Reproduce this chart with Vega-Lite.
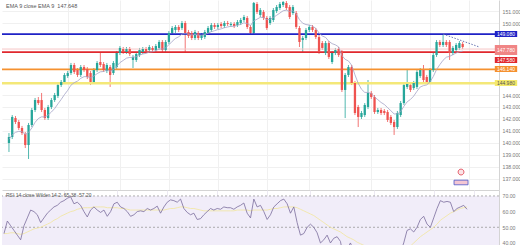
{
"$schema": "https://vega.github.io/schema/vega-lite/v6.json",
"padding": 0,
"spacing": 0,
"background": "white",
"config": {"view": {"stroke": null}, "font": "Liberation Sans",
"axis": {"labelFont": "Liberation Sans", "labelFontSize": 5.2, "labelColor": "#7a7a7a", "labelOverlap": false, "ticks": false, "title": null, "domainColor": "#d4d4d4"},
"title": {"font": "Liberation Sans"}},
"datasets": {
"candles": [
{"i":0,"o":140.00,"h":140.83,"l":139.25,"c":140.50,"e":140.30,"r":46,"m":46},
{"i":1,"o":140.50,"h":142.33,"l":140.33,"c":142.17,"e":140.68,"r":54,"m":46},
{"i":2,"o":142.08,"h":142.25,"l":141.58,"c":141.75,"e":140.89,"r":51,"m":46.5},
{"i":3,"o":141.75,"h":141.92,"l":141.08,"c":141.25,"e":140.97,"r":48,"m":46.5},
{"i":4,"o":141.25,"h":141.42,"l":140.67,"c":140.83,"e":140.94,"r":45,"m":46},
{"i":5,"o":140.75,"h":140.92,"l":139.58,"c":139.83,"e":140.72,"r":42,"m":45.5},
{"i":6,"o":139.83,"h":141.67,"l":138.67,"c":141.50,"e":140.88,"r":51,"m":46},
{"i":7,"o":141.50,"h":142.92,"l":141.33,"c":142.75,"e":141.25,"r":56,"m":47},
{"i":8,"o":142.75,"h":143.75,"l":142.58,"c":143.58,"e":141.72,"r":61,"m":48},
{"i":9,"o":143.58,"h":143.83,"l":143.17,"c":143.33,"e":142.04,"r":60,"m":49},
{"i":10,"o":143.58,"h":144.17,"l":142.58,"c":142.75,"e":142.18,"r":58,"m":49.5},
{"i":11,"o":142.75,"h":142.92,"l":141.92,"c":142.08,"e":142.17,"r":53,"m":50},
{"i":12,"o":142.08,"h":143.17,"l":141.92,"c":143.00,"e":142.33,"r":56,"m":51},
{"i":13,"o":143.00,"h":143.75,"l":142.83,"c":143.58,"e":142.58,"r":59,"m":52},
{"i":14,"o":143.58,"h":144.17,"l":143.42,"c":144.00,"e":142.87,"r":61,"m":53},
{"i":15,"o":143.92,"h":145.00,"l":143.75,"c":144.83,"e":143.26,"r":63,"m":54.5},
{"i":16,"o":144.83,"h":145.25,"l":144.67,"c":145.08,"e":143.63,"r":64,"m":55.5},
{"i":17,"o":145.08,"h":145.83,"l":144.92,"c":145.67,"e":144.03,"r":66,"m":57},
{"i":18,"o":145.58,"h":146.00,"l":145.42,"c":145.83,"e":144.39,"r":67,"m":58},
{"i":19,"o":145.83,"h":146.67,"l":145.67,"c":146.50,"e":144.82,"r":68.5,"m":59},
{"i":20,"o":146.50,"h":146.67,"l":145.75,"c":145.92,"e":145.03,"r":69.5,"m":60},
{"i":21,"o":146.08,"h":146.25,"l":145.50,"c":145.67,"e":145.16,"r":65,"m":60.5},
{"i":22,"o":145.67,"h":146.50,"l":145.50,"c":146.33,"e":145.39,"r":66,"m":61.5},
{"i":23,"o":146.33,"h":146.50,"l":145.92,"c":146.08,"e":145.53,"r":64,"m":62},
{"i":24,"o":146.17,"h":146.33,"l":145.33,"c":145.50,"e":145.53,"r":60,"m":62.5},
{"i":25,"o":145.83,"h":146.00,"l":144.83,"c":145.08,"e":145.43,"r":56.6,"m":62.5},
{"i":26,"o":145.08,"h":146.25,"l":144.92,"c":146.08,"e":145.57,"r":61,"m":62.5},
{"i":27,"o":146.08,"h":146.83,"l":145.92,"c":146.67,"e":145.78,"r":63,"m":63},
{"i":28,"o":146.75,"h":147.50,"l":146.33,"c":146.50,"e":145.93,"r":61,"m":63},
{"i":29,"o":146.58,"h":146.75,"l":145.92,"c":146.08,"e":145.96,"r":59.5,"m":63},
{"i":30,"o":146.00,"h":146.67,"l":145.83,"c":146.50,"e":146.07,"r":61,"m":63},
{"i":31,"o":146.33,"h":146.50,"l":144.67,"c":145.67,"e":145.98,"r":57,"m":62.5},
{"i":32,"o":145.83,"h":146.83,"l":145.67,"c":146.67,"e":146.12,"r":60,"m":62.5},
{"i":33,"o":146.33,"h":147.67,"l":146.17,"c":147.50,"e":146.39,"r":65,"m":62.5},
{"i":34,"o":147.50,"h":148.08,"l":147.33,"c":147.92,"e":146.70,"r":66,"m":62.5},
{"i":35,"o":147.83,"h":148.00,"l":147.42,"c":147.58,"e":146.88,"r":63,"m":62},
{"i":36,"o":147.58,"h":148.00,"l":147.42,"c":147.83,"e":147.07,"r":62,"m":62},
{"i":37,"o":147.83,"h":148.00,"l":147.25,"c":147.42,"e":147.13,"r":60,"m":61.5},
{"i":38,"o":146.92,"h":147.33,"l":146.25,"c":147.17,"e":147.14,"r":57,"m":61},
{"i":39,"o":146.92,"h":147.58,"l":146.75,"c":147.42,"e":147.20,"r":58,"m":61},
{"i":40,"o":147.33,"h":147.92,"l":147.17,"c":147.75,"e":147.31,"r":60,"m":61},
{"i":41,"o":147.58,"h":148.00,"l":147.42,"c":147.83,"e":147.42,"r":60.5,"m":61},
{"i":42,"o":147.83,"h":148.00,"l":147.50,"c":147.67,"e":147.47,"r":60,"m":61},
{"i":43,"o":147.75,"h":148.17,"l":147.58,"c":148.00,"e":147.58,"r":62,"m":61},
{"i":44,"o":147.92,"h":148.08,"l":147.58,"c":147.75,"e":147.61,"r":61,"m":61},
{"i":45,"o":147.75,"h":148.25,"l":147.58,"c":148.08,"e":147.70,"r":62,"m":61},
{"i":46,"o":147.92,"h":148.58,"l":147.75,"c":148.42,"e":147.84,"r":63.5,"m":61},
{"i":47,"o":148.42,"h":148.58,"l":147.58,"c":147.75,"e":147.83,"r":59,"m":61},
{"i":48,"o":147.75,"h":148.58,"l":147.58,"c":148.42,"e":147.94,"r":63,"m":61},
{"i":49,"o":148.42,"h":149.33,"l":148.25,"c":149.17,"e":148.18,"r":66,"m":61.5},
{"i":50,"o":149.17,"h":149.75,"l":149.00,"c":149.58,"e":148.47,"r":67.5,"m":62},
{"i":51,"o":149.42,"h":149.83,"l":149.17,"c":149.67,"e":148.71,"r":67,"m":62},
{"i":52,"o":149.67,"h":149.83,"l":149.25,"c":149.42,"e":148.85,"r":66,"m":62.5},
{"i":53,"o":149.58,"h":150.17,"l":149.42,"c":150.00,"e":149.08,"r":68,"m":63},
{"i":54,"o":150.00,"h":150.17,"l":147.58,"c":149.17,"e":149.10,"r":62,"m":63},
{"i":55,"o":149.25,"h":149.42,"l":148.75,"c":148.92,"e":149.07,"r":59.5,"m":62.5},
{"i":56,"o":149.17,"h":149.33,"l":148.58,"c":148.75,"e":149.00,"r":58,"m":62},
{"i":57,"o":148.75,"h":149.42,"l":148.58,"c":149.25,"e":149.05,"r":59,"m":62},
{"i":58,"o":149.17,"h":149.33,"l":148.58,"c":148.75,"e":148.99,"r":55,"m":61.5},
{"i":59,"o":148.75,"h":149.17,"l":148.58,"c":149.00,"e":148.99,"r":55.5,"m":61},
{"i":60,"o":148.83,"h":149.42,"l":148.67,"c":149.25,"e":149.04,"r":58,"m":60.5},
{"i":61,"o":149.17,"h":149.75,"l":149.00,"c":149.58,"e":149.15,"r":60,"m":60.5},
{"i":62,"o":149.42,"h":150.00,"l":149.25,"c":149.83,"e":149.28,"r":62,"m":60.5},
{"i":63,"o":149.83,"h":150.00,"l":149.50,"c":149.67,"e":149.36,"r":61,"m":60.5},
{"i":64,"o":149.67,"h":150.00,"l":149.50,"c":149.83,"e":149.45,"r":62,"m":60.5},
{"i":65,"o":149.92,"h":150.08,"l":149.58,"c":149.75,"e":149.51,"r":61.5,"m":60.5},
{"i":66,"o":149.75,"h":150.17,"l":149.58,"c":150.00,"e":149.61,"r":63,"m":60.5},
{"i":67,"o":150.00,"h":150.17,"l":149.75,"c":149.92,"e":149.67,"r":62.5,"m":60.5},
{"i":68,"o":149.83,"h":150.08,"l":149.67,"c":149.92,"e":149.72,"r":62.5,"m":60.5},
{"i":69,"o":149.92,"h":150.08,"l":149.58,"c":149.75,"e":149.73,"r":61.5,"m":60.5},
{"i":70,"o":149.83,"h":150.25,"l":149.67,"c":150.08,"e":149.80,"r":63,"m":61},
{"i":71,"o":150.00,"h":150.42,"l":149.83,"c":150.25,"e":149.89,"r":64,"m":61},
{"i":72,"o":150.25,"h":150.67,"l":150.08,"c":150.50,"e":150.02,"r":65.5,"m":61},
{"i":73,"o":150.42,"h":150.58,"l":149.50,"c":149.67,"e":149.95,"r":59,"m":61},
{"i":74,"o":149.67,"h":149.83,"l":149.00,"c":149.17,"e":149.79,"r":56,"m":60.5},
{"i":75,"o":149.17,"h":151.75,"l":149.00,"c":151.67,"e":150.17,"r":68,"m":61},
{"i":76,"o":151.58,"h":151.75,"l":150.75,"c":150.92,"e":150.32,"r":63,"m":61},
{"i":77,"o":150.67,"h":151.25,"l":150.50,"c":151.08,"e":150.47,"r":64,"m":61},
{"i":78,"o":150.92,"h":151.08,"l":150.25,"c":150.42,"e":150.46,"r":60,"m":61},
{"i":79,"o":150.42,"h":150.58,"l":149.42,"c":149.58,"e":150.28,"r":55,"m":61},
{"i":80,"o":150.00,"h":150.58,"l":149.83,"c":150.42,"e":150.31,"r":58,"m":61.5},
{"i":81,"o":150.25,"h":151.25,"l":150.08,"c":151.08,"e":150.47,"r":63,"m":62},
{"i":82,"o":151.00,"h":151.50,"l":150.83,"c":151.33,"e":150.64,"r":65,"m":62},
{"i":83,"o":151.25,"h":151.75,"l":151.08,"c":151.58,"e":150.83,"r":67,"m":62.5},
{"i":84,"o":151.50,"h":151.83,"l":151.33,"c":151.75,"e":151.02,"r":68,"m":63},
{"i":85,"o":151.67,"h":151.83,"l":151.08,"c":151.25,"e":151.07,"r":65,"m":63},
{"i":86,"o":151.33,"h":151.50,"l":150.33,"c":150.50,"e":150.95,"r":59,"m":63},
{"i":87,"o":150.83,"h":151.50,"l":150.67,"c":151.33,"e":151.03,"r":63,"m":63},
{"i":88,"o":150.83,"h":151.00,"l":149.50,"c":149.67,"e":150.75,"r":53,"m":62.5},
{"i":89,"o":149.58,"h":149.75,"l":148.00,"c":148.42,"e":150.28,"r":45,"m":61.5},
{"i":90,"o":148.58,"h":148.92,"l":147.50,"c":148.75,"e":149.98,"r":46,"m":60.5},
{"i":91,"o":148.75,"h":149.58,"l":148.58,"c":149.42,"e":149.87,"r":50,"m":59.5},
{"i":92,"o":149.42,"h":149.83,"l":149.25,"c":149.67,"e":149.83,"r":52,"m":58.5},
{"i":93,"o":149.67,"h":149.83,"l":149.25,"c":149.42,"e":149.74,"r":50,"m":57.5},
{"i":94,"o":149.42,"h":149.58,"l":148.67,"c":148.83,"e":149.56,"r":46.5,"m":56},
{"i":95,"o":148.83,"h":149.00,"l":147.42,"c":147.58,"e":149.17,"r":40,"m":54.5},
{"i":96,"o":148.33,"h":148.50,"l":147.75,"c":147.92,"e":148.92,"r":42,"m":53},
{"i":97,"o":147.50,"h":148.50,"l":147.33,"c":148.33,"e":148.80,"r":45,"m":51.5},
{"i":98,"o":148.33,"h":148.50,"l":147.00,"c":147.17,"e":148.48,"r":40,"m":50},
{"i":99,"o":146.75,"h":147.67,"l":146.58,"c":147.50,"e":148.28,"r":43,"m":49},
{"i":100,"o":147.50,"h":147.92,"l":147.33,"c":147.75,"e":148.18,"r":44,"m":48},
{"i":101,"o":147.83,"h":148.00,"l":147.17,"c":147.33,"e":148.01,"r":41,"m":47},
{"i":102,"o":147.58,"h":147.75,"l":144.25,"c":144.42,"e":147.29,"r":30,"m":45.5},
{"i":103,"o":144.42,"h":145.83,"l":142.08,"c":145.67,"e":146.97,"r":36,"m":44},
{"i":104,"o":145.67,"h":146.50,"l":145.50,"c":146.33,"e":146.84,"r":40,"m":43},
{"i":105,"o":146.33,"h":146.50,"l":144.83,"c":145.00,"e":146.48,"r":35,"m":42},
{"i":106,"o":145.00,"h":145.17,"l":142.33,"c":142.50,"e":145.68,"r":27,"m":40.5},
{"i":107,"o":143.00,"h":143.17,"l":141.33,"c":142.17,"e":144.98,"r":25,"m":39.5},
{"i":108,"o":142.17,"h":142.67,"l":142.00,"c":142.50,"e":144.48,"r":27,"m":38.5},
{"i":109,"o":142.33,"h":143.33,"l":142.17,"c":143.17,"e":144.22,"r":31,"m":37.5},
{"i":110,"o":143.00,"h":145.25,"l":142.83,"c":144.17,"e":144.21,"r":37,"m":37},
{"i":111,"o":144.17,"h":144.33,"l":143.67,"c":143.83,"e":144.13,"r":36,"m":36.5},
{"i":112,"o":143.83,"h":144.00,"l":142.42,"c":142.58,"e":143.83,"r":31,"m":35.5},
{"i":113,"o":142.58,"h":142.92,"l":142.42,"c":142.75,"e":143.61,"r":32,"m":35},
{"i":114,"o":142.75,"h":142.92,"l":142.33,"c":142.50,"e":143.38,"r":31,"m":34.5},
{"i":115,"o":142.67,"h":142.83,"l":142.33,"c":142.50,"e":143.21,"r":31,"m":34},
{"i":116,"o":142.58,"h":142.75,"l":141.75,"c":141.92,"e":142.95,"r":28,"m":33.5},
{"i":117,"o":142.17,"h":142.33,"l":141.50,"c":141.67,"e":142.69,"r":27,"m":33},
{"i":118,"o":141.75,"h":141.92,"l":140.67,"c":141.33,"e":142.42,"r":26,"m":33},
{"i":119,"o":141.33,"h":142.67,"l":141.17,"c":142.50,"e":142.43,"r":34,"m":34},
{"i":120,"o":142.33,"h":143.50,"l":142.17,"c":143.33,"e":142.62,"r":40,"m":35},
{"i":121,"o":143.33,"h":145.00,"l":143.17,"c":144.83,"e":143.06,"r":48,"m":36.5},
{"i":122,"o":144.67,"h":146.17,"l":144.50,"c":144.92,"e":143.43,"r":49,"m":38},
{"i":123,"o":144.83,"h":145.00,"l":144.25,"c":144.42,"e":143.63,"r":47,"m":40},
{"i":124,"o":144.58,"h":145.17,"l":144.42,"c":145.00,"e":143.91,"r":50,"m":42},
{"i":125,"o":144.67,"h":146.08,"l":144.50,"c":145.92,"e":144.31,"r":55,"m":44},
{"i":126,"o":145.58,"h":146.25,"l":145.42,"c":146.08,"e":144.67,"r":57,"m":45.5},
{"i":127,"o":146.08,"h":146.50,"l":145.08,"c":145.25,"e":144.78,"r":52,"m":47},
{"i":128,"o":145.50,"h":145.67,"l":144.92,"c":145.08,"e":144.84,"r":50,"m":48.5},
{"i":129,"o":145.08,"h":146.25,"l":144.92,"c":146.08,"e":145.09,"r":56,"m":50},
{"i":130,"o":146.08,"h":147.50,"l":145.92,"c":147.33,"e":145.54,"r":62,"m":52},
{"i":131,"o":147.33,"h":148.58,"l":147.17,"c":148.42,"e":146.12,"r":67,"m":54.5},
{"i":132,"o":148.42,"h":148.58,"l":148.00,"c":148.17,"e":146.53,"r":66,"m":56},
{"i":133,"o":148.17,"h":149.00,"l":148.00,"c":148.42,"e":146.90,"r":66.5,"m":57.5},
{"i":134,"o":148.42,"h":148.58,"l":148.00,"c":148.17,"e":147.15,"r":66,"m":59},
{"i":135,"o":148.42,"h":148.58,"l":146.92,"c":147.50,"e":147.22,"r":60,"m":60},
{"i":136,"o":147.50,"h":148.08,"l":147.33,"c":147.92,"e":147.36,"r":62,"m":61},
{"i":137,"o":147.75,"h":148.33,"l":147.58,"c":148.17,"e":147.50,"r":63,"m":62},
{"i":138,"o":147.92,"h":148.50,"l":147.75,"c":148.33,"e":147.60,"r":64,"m":62.5},
{"i":139,"o":148.25,"h":148.42,"l":147.83,"c":148.00,"e":147.65,"r":61.5,"m":63}
],
"levels": [
{"name":"price","p":147.83},
{"name":"resistance","p":149.08},
{"name":"support 1","p":147.58},
{"name":"support 2","p":146.14},
{"name":"support 3","p":144.98}
],
"badges": [
{"name":"resistance","p":149.08,"label":"149.080"},
{"name":"price","p":147.75,"label":"147.780"},
{"name":"support 1","p":146.92,"label":"147.580"},
{"name":"support 2","p":146.17,"label":"146.140"},
{"name":"support 3","p":145.00,"label":"144.980"}
],
"trend": [
{"i":133,"p":149.08},
{"i":144.1,"p":148.0}
],
"events": [
{"kind":"flag","i":138.5,"p":137.58},
{"kind":"pill","i":138.5,"p":136.71}
],
"rsilevels": [{"v":70},{"v":50}]
},
"vconcat": [
{
"width": 497,
"height": 190,
"title": {"text": "EMA 9 close EMA 9\u00a0\u00a0147.648", "anchor": "start", "frame": "group", "orient": "top", "offset": -9, "dx": 4, "fontSize": 5.5, "fontWeight": "normal", "color": "#555555"},
"encoding": {
"y": {"type": "quantitative", "scale": {"domain": [136.083, 151.917], "nice": false, "zero": false},
"axis": {"orient": "right", "values": [137,138,139,140,141,142,143,144,150,151], "format": ".3f", "labelPadding": 3, "domain": true, "grid": true, "gridColor": "#f0f0f0"}}
},
"layer": [
{
"data": {"name": "candles"},
"mark": {"type": "rule", "strokeWidth": 0.8},
"encoding": {
"x": {"field": "i", "type": "quantitative", "scale": {"domain": [-0.6, 148.6], "nice": false, "zero": false},
"axis": {"orient": "bottom", "labels": false, "domain": true, "grid": true, "gridColor": "#f0f0f0", "values": [18, 34, 49, 64, 79, 92, 111, 129, 141]}},
"y": {"field": "l"},
"y2": {"field": "h"},
"color": {"condition": {"test": "datum.c < datum.o", "value": "#ef5350"}, "value": "#26a69a"}
}
},
{
"data": {"name": "levels"},
"mark": {"type": "rule"},
"encoding": {
"y": {"field": "p"},
"color": {"condition": [
{"test": "datum.name === 'price'", "value": "#f6c6c6"},
{"test": "datum.name === 'resistance'", "value": "#1f22c6"},
{"test": "datum.name === 'support 1'", "value": "#e0282e"},
{"test": "datum.name === 'support 2'", "value": "#f5912f"}], "value": "#f4e878"},
"strokeWidth": {"condition": [
{"test": "datum.name === 'price'", "value": 1},
{"test": "datum.name === 'support 3'", "value": 2.6}], "value": 1.7}
}
},
{
"data": {"name": "candles"},
"mark": {"type": "bar", "width": 2.3},
"encoding": {
"x": {"field": "i", "type": "quantitative"},
"y": {"field": "o"},
"y2": {"field": "c"},
"color": {"condition": {"test": "datum.c < datum.o", "value": "#ef5350"}, "value": "#26a69a"}
}
},
{
"data": {"name": "candles"},
"mark": {"type": "line", "strokeWidth": 0.8, "color": "#a3a3c6"},
"encoding": {
"x": {"field": "i", "type": "quantitative"},
"y": {"field": "e"}
}
},
{
"data": {"name": "trend"},
"mark": {"type": "line", "strokeWidth": 1, "color": "#6b78b4", "strokeDash": [1.5, 1.5]},
"encoding": {
"x": {"field": "i", "type": "quantitative"},
"y": {"field": "p"}
}
},
{
"data": {"name": "events"},
"mark": {"type": "point", "filled": true, "strokeWidth": 0.8, "size": 196, "opacity": 1},
"encoding": {
"x": {"field": "i", "type": "quantitative"},
"y": {"field": "p"},
"shape": {"condition": {"test": "datum.kind === 'flag'", "value": "M0,-0.42A0.42,0.42 0 1,1 0,0.42A0.42,0.42 0 1,1 0,-0.42Z"}, "value": "M-1,-0.33H1V0.33H-1Z"},
"fill": {"condition": {"test": "datum.kind === 'flag'", "value": "#fbe3e6"}, "value": "#f3c6d3"},
"stroke": {"condition": {"test": "datum.kind === 'flag'", "value": "#e0404f"}, "value": "#4a55c8"}
}
},
{
"data": {"name": "badges"},
"mark": {"type": "rect", "clip": false},
"encoding": {
"x": {"datum": 148.85, "type": "quantitative"},
"x2": {"datum": 155.7},
"y": {"field": "p"},
"y2": {"field": "p"},
"strokeWidth": {"condition": {"test": "datum.name === 'price'", "value": 10}, "value": 6},
"color": {"condition": [
{"test": "datum.name === 'price'", "value": "#f08585"},
{"test": "datum.name === 'resistance'", "value": "#1f22c6"},
{"test": "datum.name === 'support 1'", "value": "#e0282e"},
{"test": "datum.name === 'support 2'", "value": "#f5912f"}], "value": "#f4e96a"},
"stroke": {"condition": [
{"test": "datum.name === 'price'", "value": "#f08585"},
{"test": "datum.name === 'resistance'", "value": "#1f22c6"},
{"test": "datum.name === 'support 1'", "value": "#e0282e"},
{"test": "datum.name === 'support 2'", "value": "#f5912f"}], "value": "#f4e96a"}
}
},
{
"data": {"name": "badges"},
"mark": {"type": "text", "fontSize": 5, "clip": false, "baseline": "middle", "align": "center"},
"encoding": {
"x": {"datum": 152.25, "type": "quantitative"},
"y": {"field": "p"},
"text": {"field": "label"},
"color": {"condition": {"test": "datum.name === 'support 3'", "value": "#555555"}, "value": "#ffffff"}
}
}
]
},
{
"width": 497,
"height": 55,
"title": {"text": "RSI 14 close Wilder 14 2\u00a0\u00a065.38\u00a0\u00a057.20", "anchor": "start", "frame": "group", "orient": "top", "offset": -8, "dx": 4, "fontSize": 5, "fontWeight": "normal", "color": "#555555"},
"encoding": {
"y": {"type": "quantitative", "scale": {"domain": [38.7, 73.8], "nice": false, "zero": false},
"axis": {"orient": "right", "values": [40, 50, 60, 70], "format": ".2f", "labelPadding": 3, "labelFlush": true, "domain": true, "grid": false}}
},
"layer": [
{
"data": {"values": [{}]},
"mark": {"type": "rect", "color": "#f1edf9"},
"encoding": {
"x": {"datum": -0.6, "type": "quantitative", "scale": {"domain": [-0.6, 148.6], "nice": false, "zero": false},
"axis": {"orient": "bottom", "labels": false, "domain": false, "grid": true, "gridColor": "#ece9f2", "values": [18, 34, 49, 64, 79, 92, 111, 129, 141]}},
"x2": {"datum": 148.6},
"y": {"datum": 70},
"y2": {"datum": 38.7}
}
},
{
"data": {"name": "rsilevels"},
"mark": {"type": "rule", "strokeDash": [2, 2], "strokeWidth": 0.8, "color": "#9a9a9a"},
"encoding": {
"y": {"field": "v"}
}
},
{
"data": {"name": "candles"},
"mark": {"type": "line", "strokeWidth": 0.9, "color": "#f2e7a6", "clip": true},
"encoding": {
"x": {"field": "i", "type": "quantitative"},
"y": {"field": "m"}
}
},
{
"data": {"name": "candles"},
"mark": {"type": "line", "strokeWidth": 0.8, "color": "#7a6c9c", "clip": true},
"encoding": {
"x": {"field": "i", "type": "quantitative"},
"y": {"field": "r"}
}
}
]
}
]
}
